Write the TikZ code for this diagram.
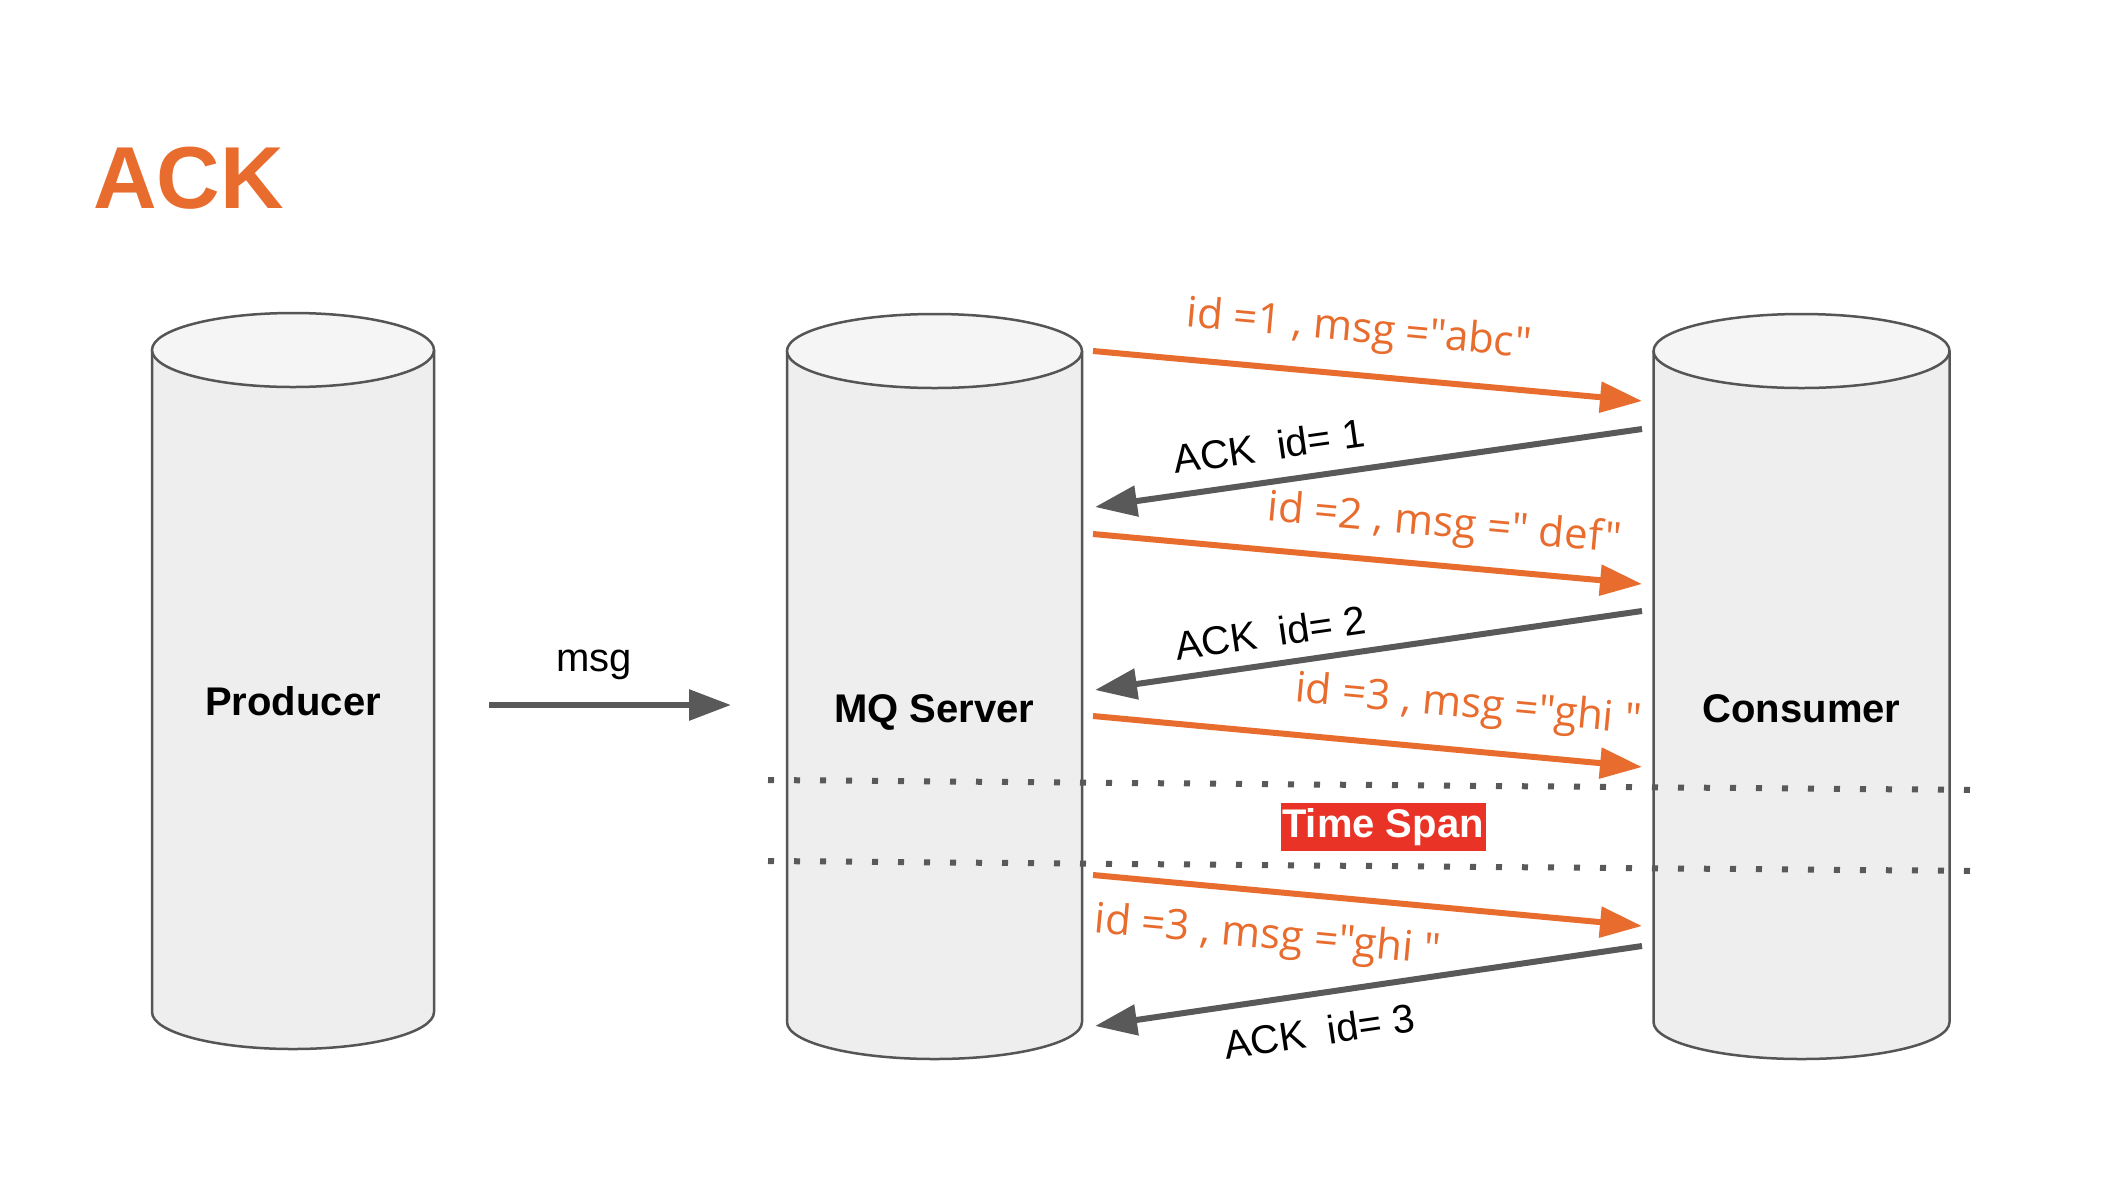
\documentclass[tikz,border=0pt]{standalone}
\usepackage{fontspec}
\setmainfont{Liberation Sans}
\newfontfamily\handfont{Open Sans}
\usetikzlibrary{arrows.meta,positioning,calc}

\definecolor{ackorange}{RGB}{232,108,45}
\definecolor{ackgray}{RGB}{89,89,89}
\definecolor{cylline}{RGB}{85,85,85}
\definecolor{cylbody}{RGB}{238,238,238}
\definecolor{cyltop}{RGB}{245,245,245}
\definecolor{spanred}{RGB}{233,51,38}

% upright cylinder: centre x, top y, bottom y, half width (px)
\newcommand{\dbcylinder}[4]{%
  \filldraw[cylbox] (#1-#4,#2) -- (#1-#4,#3)
    arc[start angle=180, end angle=360, x radius=#4*0.5pt, y radius=18.5pt]
    -- (#1+#4,#2);
  \filldraw[cyltopbox] (#1,#2) ellipse[x radius=#4*0.5pt, y radius=18.5pt];
}

\begin{document}
\begin{tikzpicture}[x=0.5pt,y=-0.5pt,
    cylbox/.style={draw=cylline,fill=cylbody,line width=1.25pt},
    cyltopbox/.style={draw=cylline,fill=cyltop,line width=1.25pt},
    cyllabel/.style={font=\fontsize{20pt}{24pt}\selectfont\bfseries,inner sep=0pt},
    sendarrow/.style={draw=ackorange,line width=3pt,-{Triangle[length=21pt,width=15pt]}},
    ackarrow/.style={draw=ackgray,line width=3pt,-{Triangle[length=21pt,width=15pt]}},
    sendlabel/.style={font=\handfont\fontsize{21pt}{25pt}\selectfont,text=ackorange,inner sep=0pt,sloped},
    acklabel/.style={font=\fontsize{20pt}{24pt}\selectfont,inner sep=0pt,sloped},
    dotline/.style={draw=ackgray,line width=3pt,dash pattern=on 3pt off 10pt},
    spanbox/.style={fill=spanred,text=white,font=\fontsize{20pt}{24pt}\selectfont\bfseries,
      minimum width=102.5pt,minimum height=24pt,inner sep=0pt}]
  \fill[white] (0,0) rectangle (2102,1184);
  \useasboundingbox (0,0) rectangle (2102,1184);

  \node[anchor=base west,inner sep=0pt,text=ackorange,
    font=\fontsize{44pt}{50pt}\selectfont\bfseries] (title) at (93,208) {ACK};

  % the three parties
  \dbcylinder{293}{350}{1012}{141}
  \dbcylinder{934.5}{351}{1022}{147.5}
  \dbcylinder{1801.5}{351}{1022}{148}
  \node[cyllabel,anchor=base] (producer) at (293,715) {Producer};
  \node[cyllabel,anchor=base] (server) at (934.5,722) {MQ Server};
  \node[cyllabel,anchor=base] (consumer) at (1801.5,722) {Consumer};

  % arrow ends
  \coordinate (pr-out) at (489,705);  \coordinate (mq-in) at (731,705);
  \coordinate (mq-o1) at (1093,351);  \coordinate (cs-o1) at (1642,401);
  \coordinate (cs-a1) at (1642,429);  \coordinate (mq-a1) at (1095,507);
  \coordinate (mq-o2) at (1093,534);  \coordinate (cs-o2) at (1642,584);
  \coordinate (cs-a2) at (1642,611);  \coordinate (mq-a2) at (1095,690);
  \coordinate (mq-o3) at (1093,716);  \coordinate (cs-o3) at (1642,767);
  \coordinate (mq-o4) at (1093,875);  \coordinate (cs-o4) at (1642,926);
  \coordinate (cs-a3) at (1642,946);  \coordinate (mq-a3) at (1095,1026);

  \draw[ackarrow] (pr-out) -- node[acklabel,pos=0.434,above=11pt] {msg} (mq-in);

  \draw[sendarrow] (mq-o1) -- node[sendlabel,pos=0.477,above=10pt] {id =1 , msg ="abc"} (cs-o1);
  \draw[ackarrow] (cs-a1) -- node[acklabel,pos=0.673,above=9pt] {ACK\ \ id= 1} (mq-a1);
  \draw[sendarrow] (mq-o2) -- node[sendlabel,pos=0.634,above=8pt] {id =2 , msg =" def"} (cs-o2);
  \draw[ackarrow] (cs-a2) -- node[acklabel,pos=0.671,above=7pt] {ACK\ \ id= 2} (mq-a2);
  \draw[sendarrow] (mq-o3) -- node[sendlabel,pos=0.676,above=10pt] {id =3 , msg ="ghi "} (cs-o3);

  % the time span
  \coordinate (span-a1) at (768,780);  \coordinate (span-a2) at (1981,790);
  \coordinate (span-b1) at (768,861);  \coordinate (span-b2) at (1981,871);
  \draw[dotline] (span-a1) -- (span-a2);
  \draw[dotline] (span-b1) -- (span-b2);
  \node[spanbox] (span) at (1383,827) {Time Span};

  \draw[sendarrow] (mq-o4) -- node[sendlabel,pos=0.326,below=11pt] {id =3 , msg ="ghi "} (cs-o4);
  \draw[ackarrow] (cs-a3) -- node[acklabel,pos=0.6,below=10pt] {ACK\ \ id= 3} (mq-a3);
\end{tikzpicture}
\end{document}
